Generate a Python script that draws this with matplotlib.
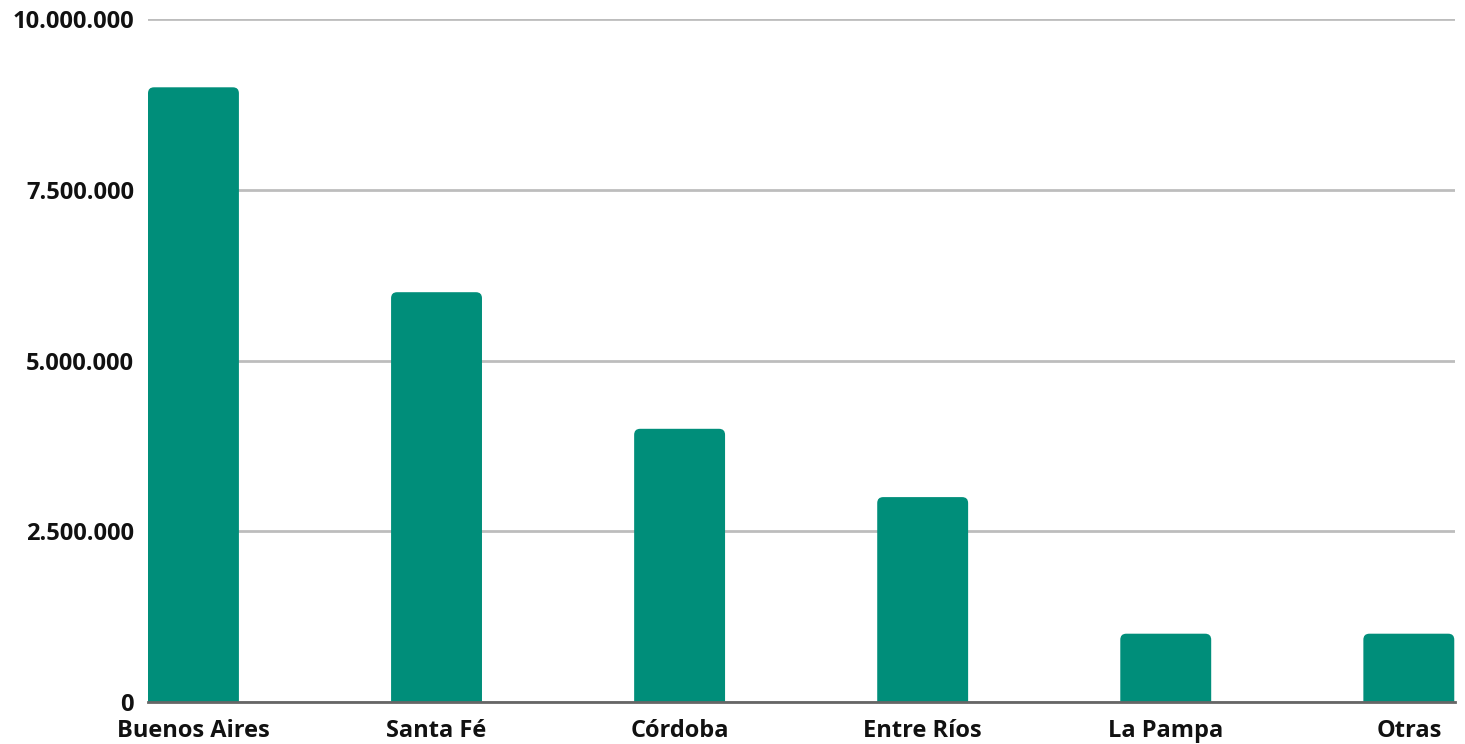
import matplotlib.pyplot as plt
from matplotlib.patches import FancyBboxPatch
from matplotlib.ticker import FuncFormatter

provincias = ['Buenos Aires', 'Santa Fé', 'Córdoba', 'Entre Ríos', 'La Pampa', 'Otras']
valores = [9000000, 6000000, 4000000, 3000000, 1000000, 1000000]
y_ticks = [0, 2500000, 5000000, 7500000, 10000000]

BAR_COLOR = '#008e7a'

plt.rcParams['font.family'] = ['Open Sans', 'DejaVu Sans']

fig = plt.figure(figsize=(14.65, 7.44), dpi=100)
ax = fig.add_axes([148 / 1465, 42 / 744, 1307 / 1465, 683 / 744])

x = list(range(len(provincias)))
bars = ax.bar(x, valores, width=0.374, color=BAR_COLOR, zorder=3)

ax.set_xlim(-0.187, 5.19)
ax.set_ylim(0, 10000000)

# swap the plain rectangles for ones with rounded top corners
# (the bottom corners fall below y=0 and get clipped)
fig.canvas.draw()
px_x = ax.transData.transform([(1, 0)])[0][0] - ax.transData.transform([(0, 0)])[0][0]
px_y = ax.transData.transform([(0, 1)])[0][1] - ax.transData.transform([(0, 0)])[0][1]
aspect = px_x / px_y
radius = 6 / px_x
for b in bars:
    b.set_visible(False)
    x0, w, h = b.get_x(), b.get_width(), b.get_height()
    shift = radius * aspect
    patch = FancyBboxPatch((x0, -shift), w, h + shift,
                           boxstyle=f'round,pad=0,rounding_size={radius}',
                           mutation_aspect=aspect, facecolor=BAR_COLOR,
                           edgecolor='none', zorder=3, clip_on=True)
    ax.add_patch(patch)

ax.set_yticks(y_ticks)
ax.yaxis.set_major_formatter(FuncFormatter(lambda v, p: f'{int(v):,}'.replace(',', '.')))
ax.set_xticks(x)
ax.set_xticklabels(provincias)

ax.grid(axis='y', color='#bdbdbd', linewidth=2, zorder=0)
ax.tick_params(axis='both', length=0, labelsize=17)
ax.tick_params(axis='y', pad=10)
ax.tick_params(axis='x', pad=12)
for lbl in ax.get_xticklabels() + ax.get_yticklabels():
    lbl.set_fontweight('bold')
    lbl.set_color('#111111')

for side in ['top', 'right', 'left']:
    ax.spines[side].set_visible(False)
ax.spines['bottom'].set_color('#666666')
ax.spines['bottom'].set_linewidth(2)
ax.spines['bottom'].set_zorder(4)

fig.savefig('out.png', dpi=100)
